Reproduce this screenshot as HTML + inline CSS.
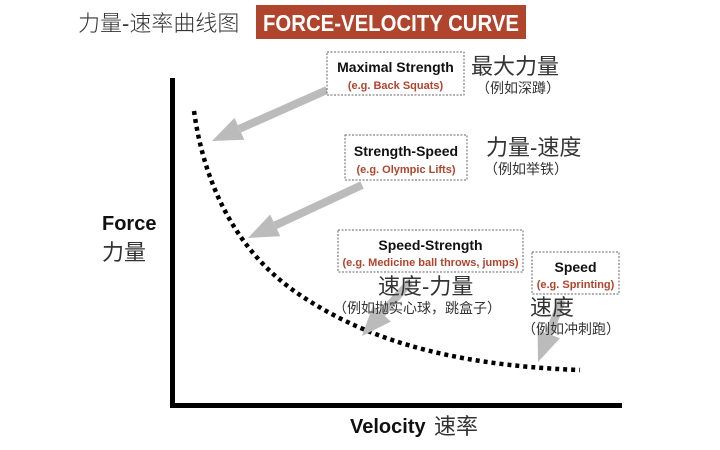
<!DOCTYPE html>
<html><head><meta charset="utf-8"><style>
html,body{margin:0;padding:0;background:#fff;}
svg{display:block;}
.cn{font-family:"Liberation Sans","Noto Sans CJK SC",sans-serif;fill:#333;}
.b{font-family:"Liberation Sans",sans-serif;font-weight:bold;}
</style></head><body>
<svg width="720" height="450" viewBox="0 0 720 450" xmlns="http://www.w3.org/2000/svg">
<rect width="720" height="450" fill="#fff"/>
<text x="78" y="31" class="cn" font-size="22" font-weight="300">力量-速率曲线图</text>
<rect x="256" y="5" width="270" height="34" fill="#b0442c"/>
<text x="391" y="31" class="b" font-size="23" fill="#fff" text-anchor="middle" textLength="256" lengthAdjust="spacingAndGlyphs">FORCE-VELOCITY CURVE</text>
<!-- axes -->
<rect x="170" y="78" width="5" height="330" fill="#000"/>
<rect x="170" y="403" width="452" height="5" fill="#000"/>
<!-- curve -->
<path d="M194,111 C205,190 240,255 300,295 C360,335 440,365 580,370" fill="none" stroke="#000" stroke-width="4.5" stroke-dasharray="4,4"/>
<!-- arrows -->
<g fill="#bbb" stroke="#bbb">
<line x1="327" y1="90" x2="239.4" y2="128.8" stroke-width="8"/>
<polygon points="212,141 244.3,139.8 234.5,117.9" stroke="none"/>
<line x1="362" y1="185" x2="275.2" y2="225.4" stroke-width="8"/>
<polygon points="248,238 280.3,236.3 270.1,214.5" stroke="none"/>
<line x1="410" y1="282" x2="381.9" y2="313.6" stroke-width="8"/>
<polygon points="362,336 390.9,321.6 372.9,305.6" stroke="none"/>
<line x1="562" y1="300" x2="548.8" y2="334" stroke-width="8"/>
<polygon points="538,362 560,338.3 537.6,329.7" stroke="none"/>
</g>
<!-- boxes -->
<g fill="#fff" stroke="#666" stroke-width="1" stroke-dasharray="2,1.5">
<rect x="327" y="52" width="137" height="43"/>
<rect x="345" y="135" width="122" height="45"/>
<rect x="338" y="230" width="185" height="42"/>
<rect x="532" y="252" width="87" height="42"/>
</g>
<g class="b" text-anchor="middle">
<text x="395.5" y="72" font-size="14" fill="#111">Maximal Strength</text>
<text x="395.5" y="89" font-size="11" fill="#b0442c">(e.g. Back Squats)</text>
<text x="406" y="156" font-size="14" fill="#111">Strength-Speed</text>
<text x="406" y="173" font-size="11" fill="#b0442c">(e.g. Olympic Lifts)</text>
<text x="430.5" y="250" font-size="14" fill="#111">Speed-Strength</text>
<text x="430.5" y="266" font-size="11" fill="#b0442c">(e.g. Medicine ball throws, jumps)</text>
<text x="575.5" y="272" font-size="14" fill="#111">Speed</text>
<text x="575.5" y="288" font-size="11" fill="#b0442c">(e.g. Sprinting)</text>
</g>
<g class="cn">
<text x="471" y="74" font-size="22">最大力量</text>
<text x="476" y="93" font-size="14">（例如深蹲）</text>
<text x="486" y="155" font-size="22">力量-速度</text>
<text x="484" y="174" font-size="14">（例如举铁）</text>
<text x="378" y="294" font-size="22">速度-力量</text>
<text x="333" y="313" font-size="14">（例如抛实心球，跳盒子）</text>
<text x="530" y="315" font-size="22">速度</text>
<text x="522" y="334" font-size="14">（例如冲刺跑）</text>
</g>
<text x="102" y="230" class="b" font-size="20" fill="#111">Force</text>
<text x="102" y="260" class="cn" font-size="22" fill="#222">力量</text>
<text x="350" y="433" class="b" font-size="20" fill="#111">Velocity</text>
<text x="434" y="434" class="cn" font-size="22" fill="#222">速率</text>
</svg>
</body></html>
